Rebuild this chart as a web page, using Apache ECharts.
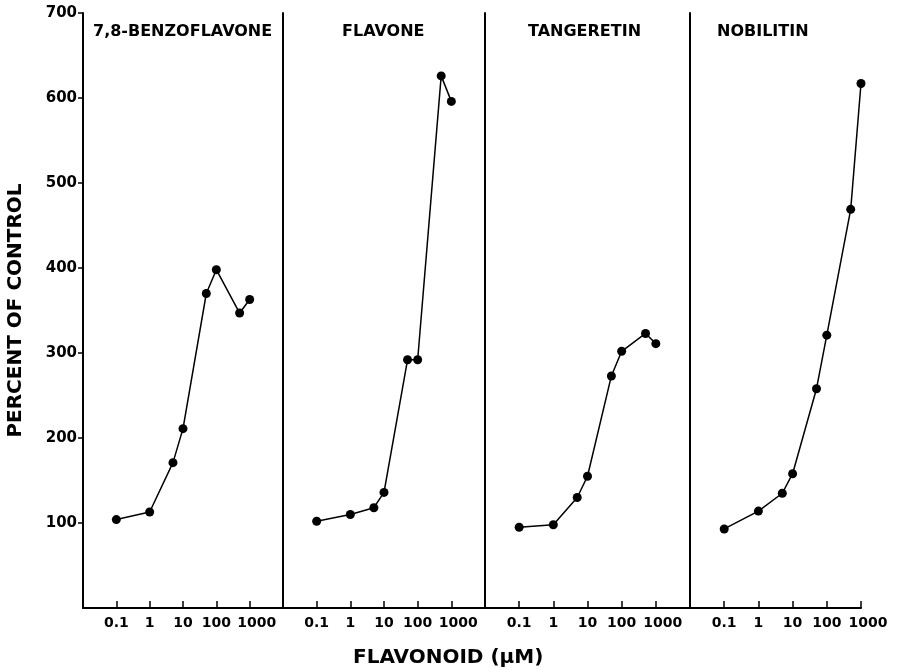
<!DOCTYPE html>
<html>
<head>
<meta charset="utf-8">
<script src="https://cdn.jsdelivr.net/npm/echarts@6/dist/echarts.min.js"></script>
<style>
  html, body { margin: 0; padding: 0; background: #fff; }
  #chart { width: 897px; height: 668px; }
</style>
</head>
<body>
<div id="chart"></div>
<script>
// 浓度 (μM)
var concentrations = [0.1, 1, 5, 10, 50, 100, 500, 1000];
// percent of control
var benzoflavone = [104, 113, 171, 211, 370, 398, 347, 363];
var flavone = [102, 110, 118, 136, 292, 292, 626, 596];
var tangeretin = [95, 98, 130, 155, 273, 302, 323, 311];
var nobilitin = [93, 114, 135, 158, 258, 321, 469, 617];

var panelTitles = ['7,8-BENZOFLAVONE', 'FLAVONE', 'TANGERETIN', 'NOBILITIN'];
var panelData = [benzoflavone, flavone, tangeretin, nobilitin];
var xTickLabels = ['0.1', '1', '10', '100', '1000'];
var yTickValues = [100, 200, 300, 400, 500, 600, 700];

var FONT = 'DejaVu Sans';

function showChart() {
  var myChart = echarts.init(document.getElementById('chart'));

  // 每个面板的位置
  var panels = [
    { left: 83, width: 200, xMax: 10000, titleLeft: 93 },
    { left: 283, width: 202, xMax: 10000, titleLeft: 342 },
    { left: 485, width: 205, xMax: 10000, titleLeft: 528 },
    { left: 690, width: 171, xMax: 1000, titleLeft: 717 }
  ];

  var grids = [], xAxes = [], yAxes = [], series = [], titles = [];

  panels.forEach(function (p, i) {
    grids.push({ left: p.left, width: p.width, top: 13, height: 595 });

    xAxes.push({
      type: 'log',
      logBase: 10,
      gridIndex: i,
      min: 0.01,
      max: p.xMax,
      splitNumber: 6,
      axisLine: { lineStyle: { color: '#000', width: 2 } },
      axisTick: { inside: true, length: 7, lineStyle: { color: '#000', width: 1.5 } },
      axisLabel: {
        color: '#000',
        fontFamily: FONT,
        fontWeight: 'bold',
        fontSize: 14,
        margin: 8,
        showMinLabel: true,
        showMaxLabel: true,
        formatter: function (v) {
          var k = Math.round(Math.log(v) / Math.LN10) + 1;
          if (xTickLabels[k] === undefined) return '';
          // 1000 稍微右移，和 100 分开
          return k === 4 ? '{s|' + xTickLabels[k] + '}' : xTickLabels[k];
        },
        rich: {
          s: { fontFamily: FONT, fontWeight: 'bold', fontSize: 14, color: '#000', padding: [0, 0, 0, 14] }
        }
      },
      splitLine: { show: false }
    });

    var yAxis = {
      type: 'value',
      gridIndex: i,
      min: 0,
      max: 700,
      interval: 100,
      axisLine: { show: true, lineStyle: { color: '#000', width: 2 } },
      axisTick: { show: i === 0, length: 5, customValues: yTickValues, lineStyle: { color: '#000', width: 1.5 } },
      axisLabel: {
        show: i === 0,
        color: '#000',
        fontFamily: FONT,
        fontWeight: 'bold',
        fontSize: 15,
        margin: 6,
        customValues: yTickValues
      },
      splitLine: { show: false }
    };
    if (i === 0) {
      yAxis.name = 'PERCENT OF CONTROL';
      yAxis.nameLocation = 'middle';
      yAxis.nameRotate = 90;
      yAxis.nameGap = 57;
      yAxis.nameTextStyle = { color: '#000', fontFamily: FONT, fontWeight: 'bold', fontSize: 20 };
    }
    yAxes.push(yAxis);

    series.push({
      type: 'line',
      xAxisIndex: i,
      yAxisIndex: i,
      data: concentrations.map(function (c, j) { return [c, panelData[i][j]]; }),
      symbol: 'circle',
      symbolSize: 9,
      itemStyle: { color: '#000' },
      lineStyle: { color: '#000', width: 1.5 },
      silent: true
    });

    titles.push({
      text: panelTitles[i],
      left: p.titleLeft,
      top: 24,
      padding: 0,
      textStyle: { color: '#000', fontFamily: FONT, fontWeight: 'bold', fontSize: 16 }
    });
  });

  var option = {
    animation: false,
    backgroundColor: '#fff',
    title: titles,
    grid: grids,
    xAxis: xAxes,
    yAxis: yAxes,
    series: series,
    graphic: [{
      type: 'text',
      left: 353,
      top: 648,
      style: {
        text: 'FLAVONOID (μM)',
        fill: '#000',
        font: 'bold 20px "DejaVu Sans"'
      }
    }]
  };

  myChart.setOption(option);
  window.addEventListener('resize', function () {
    myChart.resize();
  });
}

showChart();
</script>
</body>
</html>
